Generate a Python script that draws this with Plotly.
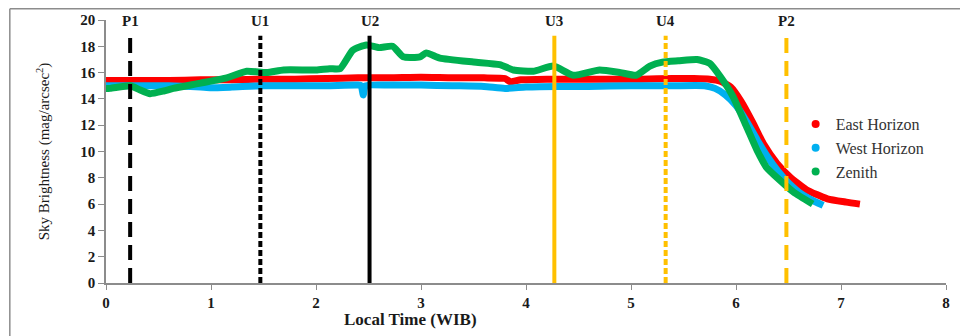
import plotly.graph_objects as go

# ---- data ----
east_t = [0, 0.3, 0.6, 0.9, 1.2, 1.5, 1.8, 2.1, 2.4, 2.7, 3.0, 3.3, 3.6, 3.8, 3.85, 3.95, 4.2, 4.5, 4.8, 5.1, 5.4, 5.6, 5.75, 5.85, 5.95, 6.05, 6.16, 6.26, 6.39, 6.51, 6.67, 6.87, 7.05, 7.18]
east_v = [15.4, 15.4, 15.4, 15.45, 15.45, 15.5, 15.5, 15.55, 15.6, 15.6, 15.65, 15.6, 15.6, 15.55, 15.3, 15.45, 15.5, 15.5, 15.5, 15.5, 15.55, 15.55, 15.5, 15.35, 14.9, 13.8, 12.2, 10.6, 9.1, 8.1, 7.1, 6.4, 6.15, 6.0]

west_t = [0, 0.3, 0.6, 0.9, 1.0, 1.2, 1.5, 1.8, 2.1, 2.4, 2.43, 2.45, 2.47, 2.7, 3.0, 3.3, 3.6, 3.8, 4.0, 4.3, 4.6, 5.0, 5.4, 5.7, 5.8, 5.9, 6.0, 6.1, 6.2, 6.3, 6.4, 6.5, 6.6, 6.7, 6.83]
west_v = [15.0, 15.0, 15.0, 14.9, 14.85, 14.9, 15.0, 15.0, 15.0, 15.05, 15.0, 14.3, 15.0, 15.05, 15.05, 15.0, 14.95, 14.8, 14.9, 14.95, 14.95, 15.0, 15.0, 15.0, 14.8, 14.3, 13.5, 12.3, 10.9, 9.6, 8.5, 7.6, 6.9, 6.4, 5.9]

zen_t = [0, 0.04, 0.23, 0.32, 0.42, 0.55, 0.64, 0.9, 1.15, 1.34, 1.53, 1.69, 2.0, 2.13, 2.23, 2.35, 2.48, 2.6, 2.73, 2.83, 2.99, 3.05, 3.18, 3.5, 3.75, 3.88, 4.07, 4.26, 4.45, 4.7, 4.9, 5.05, 5.18, 5.3, 5.45, 5.63, 5.75, 5.85, 5.97, 6.1, 6.2, 6.29, 6.42, 6.55, 6.73]
zen_v = [14.8, 14.8, 15.0, 14.7, 14.4, 14.6, 14.8, 15.2, 15.6, 16.1, 16.0, 16.2, 16.2, 16.3, 16.3, 17.7, 18.1, 17.9, 18.0, 17.2, 17.2, 17.5, 17.1, 16.8, 16.6, 16.2, 16.1, 16.5, 15.8, 16.2, 16.0, 15.8, 16.5, 16.8, 16.9, 17.0, 16.7, 15.7, 14.2, 11.9, 10.1, 8.8, 7.8, 6.9, 6.0]

series_names = ["East Horizon", "West Horizon", "Zenith"]
series_colors = ["#FF0000", "#00B0F0", "#00B050"]

event_labels = ["P1", "U1", "U2", "U3", "U4", "P2"]
event_times = [0.23, 1.47, 2.51, 4.27, 5.33, 6.48]
event_colors = ["#000000", "#000000", "#000000", "#FFC000", "#FFC000", "#FFC000"]
event_dash = ["15px,8px", "6px,3px", "solid", "solid", "6px,3px", "15px,8px"]
event_top = 18.8
label_y = 19.9

x_ticks = [0, 1, 2, 3, 4, 5, 6, 7, 8]
y_ticks = [0, 2, 4, 6, 8, 10, 12, 14, 16, 18, 20]

FONT = "Liberation Serif"

fig = go.Figure()

for t_, v_, nm, col in [(east_t, east_v, series_names[0], series_colors[0]),
                         (west_t, west_v, series_names[1], series_colors[1]),
                         (zen_t, zen_v, series_names[2], series_colors[2])]:
    fig.add_trace(go.Scatter(x=t_, y=v_, mode="lines", name=nm,
                             line=dict(color=col, width=7, shape="spline", smoothing=0.5),
                             showlegend=False))

for lbl, t, c, d in zip(event_labels, event_times, event_colors, event_dash):
    fig.add_trace(go.Scatter(x=[t, t], y=[0, event_top], mode="lines",
                             line=dict(color=c, width=4, dash=d), showlegend=False,
                             hoverinfo="skip"))
    fig.add_annotation(x=t, y=label_y, xref="x", yref="y", text=f"<b>{lbl}</b>",
                       showarrow=False, font=dict(family=FONT, size=15, color="#1a1a1a"),
                       yanchor="middle")

# legend entries as dots
for nm, col in zip(series_names, series_colors):
    fig.add_trace(go.Scatter(x=[None], y=[None], mode="markers", name=nm,
                             marker=dict(color=col, size=8)))

fig.add_annotation(x=0.363, y=-0.14, xref="paper", yref="paper",
                   text="<b>Local Time (WIB)</b>", showarrow=False,
                   font=dict(family=FONT, size=17, color="#1a1a1a"), yanchor="middle")

# outer frame (top and left visible)
fig.add_shape(type="line", xref="paper", yref="paper", x0=-0.1145, x1=1.05, y0=1.043, y1=1.043,
              line=dict(color="#8c8c8c", width=1.5))
fig.add_shape(type="line", xref="paper", yref="paper", x0=-0.1145, x1=-0.1145, y0=1.043, y1=-0.3,
              line=dict(color="#8c8c8c", width=1.5))

fig.update_layout(
    width=960, height=328,
    margin=dict(l=98, r=22, t=12, b=53, autoexpand=False),
    paper_bgcolor="white", plot_bgcolor="white",
    font=dict(family=FONT, color="#1a1a1a"),
    legend=dict(x=0.821, y=0.513, xanchor="left", yanchor="middle",
                font=dict(family=FONT, size=16, color="#333333"),
                bgcolor="rgba(0,0,0,0)", tracegroupgap=0, itemwidth=30),
    xaxis=dict(range=[0, 8], tickvals=x_ticks, ticks="outside", ticklen=5,
               tickcolor="#8c8c8c", showline=True, linecolor="#8c8c8c", linewidth=1.5,
               showgrid=False, zeroline=False, automargin=False,
               tickfont=dict(family=FONT, size=15, weight="bold", color="#1a1a1a")),
    yaxis=dict(range=[0, 20], tickvals=y_ticks, ticks="outside", ticklen=6,
               tickcolor="#8c8c8c", showline=True, linecolor="#8c8c8c", linewidth=1.5,
               showgrid=False, zeroline=False, automargin=False,
               tickfont=dict(family=FONT, size=15, weight="bold", color="#1a1a1a"),
               title=dict(text="Sky Brightness (mag/arcsec<sup>2</sup>)",
                          font=dict(family=FONT, size=15, color="#1a1a1a"), standoff=27)),
)

fig.write_html("out.html")
